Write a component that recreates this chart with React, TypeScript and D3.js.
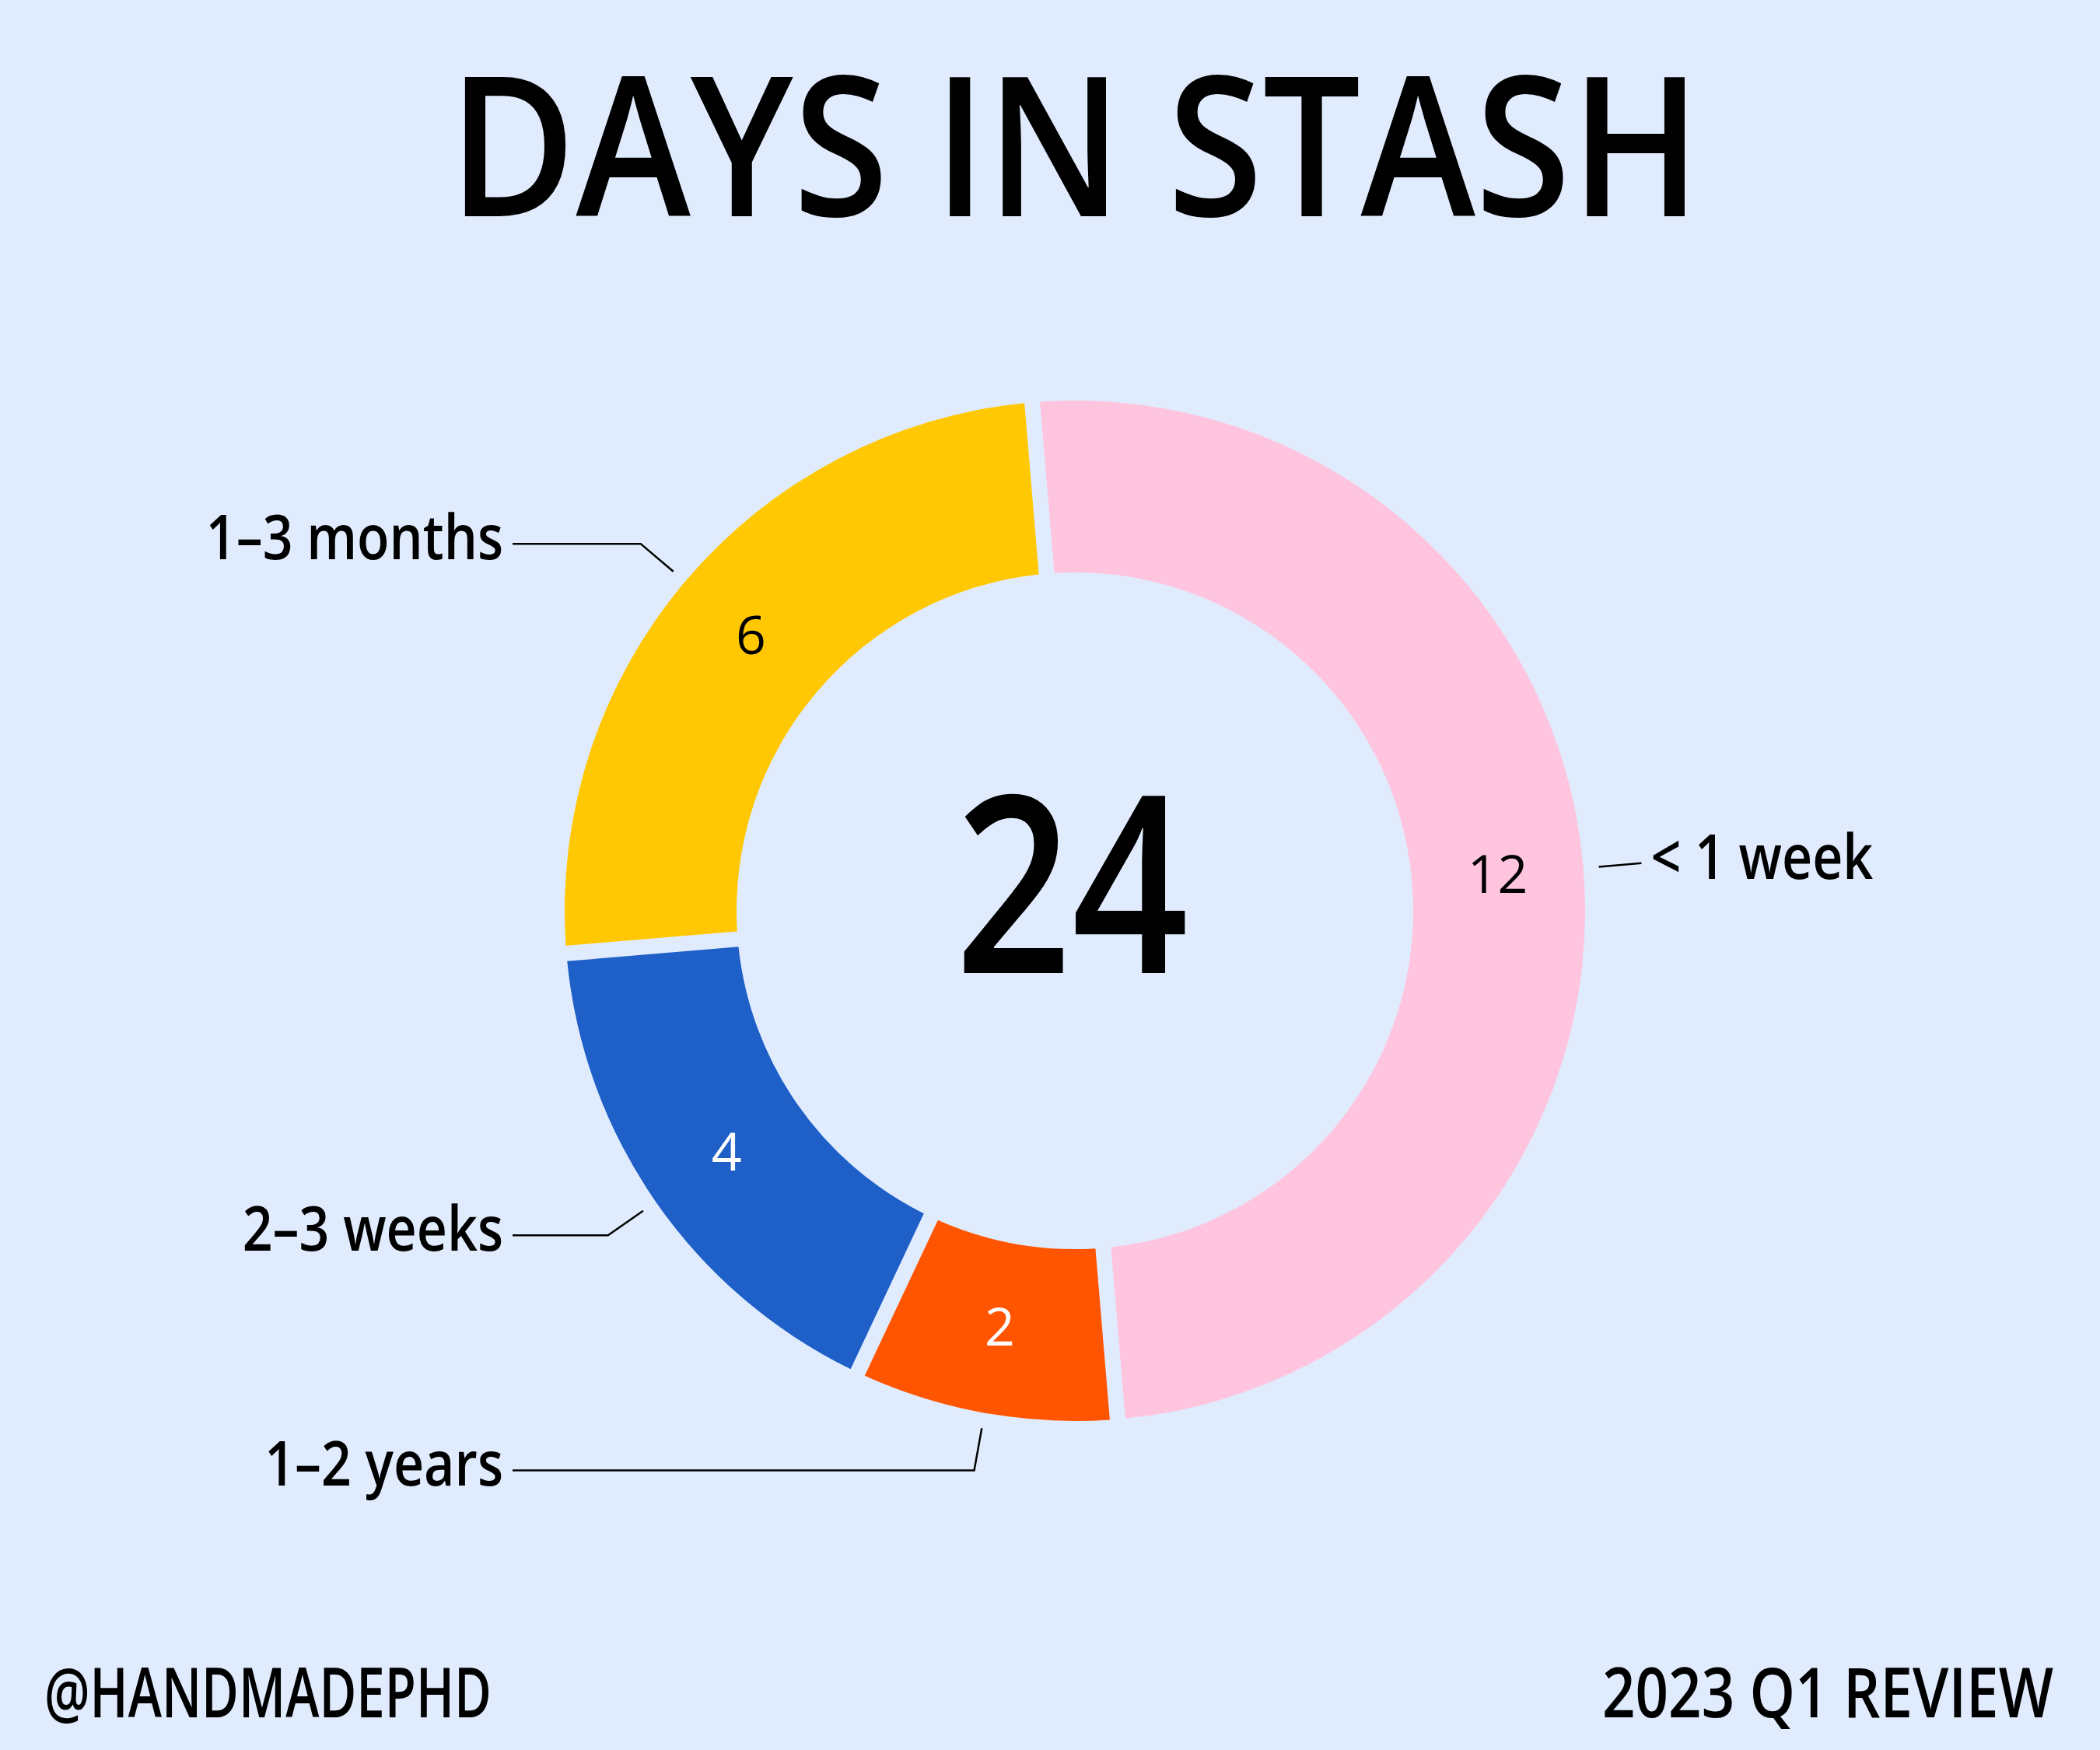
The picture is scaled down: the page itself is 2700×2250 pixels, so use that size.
import React, { useLayoutEffect, useRef, useState } from "react";
import * as d3 from "d3";

const categories = ["< 1 week", "1–2 years", "2–3 weeks", "1–3 months"];
const values = [12, 2, 4, 6];
const sliceColors = ["#FFC4DE", "#FF5500", "#1E5FC8", "#FFC802"];
const valueTextColors = ["#000000", "#FFFFFF", "#FFFFFF", "#000000"];
const title = "DAYS IN STASH";
const footerLeft = "@HANDMADEPHD";
const footerRight = "2023 Q1 REVIEW";

const W = 2700;
const H = 2250;
const BG = "#E0ECFE";
const FONT = "'Open Sans', 'DejaVu Sans', sans-serif";

type FitProps = {
  x: number;
  y: number;
  width: number;
  anchor: "start" | "middle" | "end";
  fontSize: number;
  fontWeight: number;
  children: React.ReactNode;
};

function FitText({ x, y, width, anchor, fontSize, fontWeight, children }: FitProps) {
  const ref = useRef<SVGTextElement>(null);
  const [s, setS] = useState(0.85);
  useLayoutEffect(() => {
    if (ref.current) {
      const w = ref.current.getComputedTextLength();
      if (w > 0) setS(width / w);
    }
  }, [width]);
  return (
    <text
      ref={ref}
      transform={`translate(${x},${y}) scale(${s},1)`}
      textAnchor={anchor}
      fontFamily={FONT}
      fontWeight={fontWeight}
      fontSize={fontSize}
      fill="#000"
    >
      {children}
    </text>
  );
}

export default function App() {
  const cx = 1382;
  const cy = 1171;
  const outerR = 656;
  const innerR = 435;
  const start = (-4.8 * Math.PI) / 180;
  const total = d3.sum(values);

  const pie = d3
    .pie<number>()
    .sort(null)
    .value((d) => d)
    .startAngle(start)
    .endAngle(start + 2 * Math.PI);
  const arcs = pie(values);

  const arc = d3
    .arc<d3.PieArcDatum<number>>()
    .innerRadius(innerR)
    .outerRadius(outerR)
    .padRadius(outerR)
    .padAngle(20 / outerR);

  const leftEdgeX = 659; // where left leader lines end
  const labelGap = 12;

  return (
    <svg
      width={W}
      height={H}
      viewBox={`0 0 ${W} ${H}`}
      style={{ position: "absolute", left: 0, top: 0, display: "block" }}
    >
      <rect x={0} y={0} width={W} height={H} fill={BG} />
      <FitText x={1382} y={278} width={1610} anchor="middle" fontSize={250} fontWeight={600}>
        {title}
      </FitText>

      <g transform={`translate(${cx},${cy})`}>
        {arcs.map((a, i) => (
          <path key={categories[i]} d={arc(a) || ""} fill={sliceColors[i]} />
        ))}
        {arcs.map((a, i) => {
          const [x, y] = arc.centroid(a);
          return (
            <text
              key={"v" + i}
              x={x}
              y={y}
              dy="0.33em"
              textAnchor="middle"
              fontFamily={FONT}
              fontWeight={500}
              fontSize={68}
              fill={valueTextColors[i]}
            >
              {values[i]}
            </text>
          );
        })}
        {arcs.map((a, i) => {
          const mid = (a.startAngle + a.endAngle) / 2;
          const p1 = [Math.sin(mid) * (outerR + 20), -Math.cos(mid) * (outerR + 20)];
          const p2 = [Math.sin(mid) * (outerR + 75), -Math.cos(mid) * (outerR + 75)];
          const right = Math.sin(mid) > 0;
          const endX = right ? p2[0] : leftEdgeX - cx;
          const pts = [p1, p2, [endX, p2[1]]];
          const line = d3.line()(pts as [number, number][]) || "";
          const tx = right ? endX + labelGap : endX - labelGap;
          const ty = p2[1] + 20;
          return (
            <g key={"l" + i}>
              <path d={line} fill="none" stroke="#000" strokeWidth={2.5} />
              <text
                transform={`translate(${tx},${ty}) scale(0.85,1)`}
                textAnchor={right ? "start" : "end"}
                fontFamily={FONT}
                fontWeight={600}
                fontSize={80}
                fill="#000"
              >
                {categories[i]}
              </text>
            </g>
          );
        })}
        <FitText x={-4} y={80} width={300} anchor="middle" fontSize={318} fontWeight={600}>
          {total}
        </FitText>
      </g>

      <FitText x={57} y={2208} width={575} anchor="start" fontSize={88} fontWeight={600}>
        {footerLeft}
      </FitText>
      <FitText x={2640} y={2208} width={580} anchor="end" fontSize={88} fontWeight={600}>
        {footerRight}
      </FitText>
    </svg>
  );
}
